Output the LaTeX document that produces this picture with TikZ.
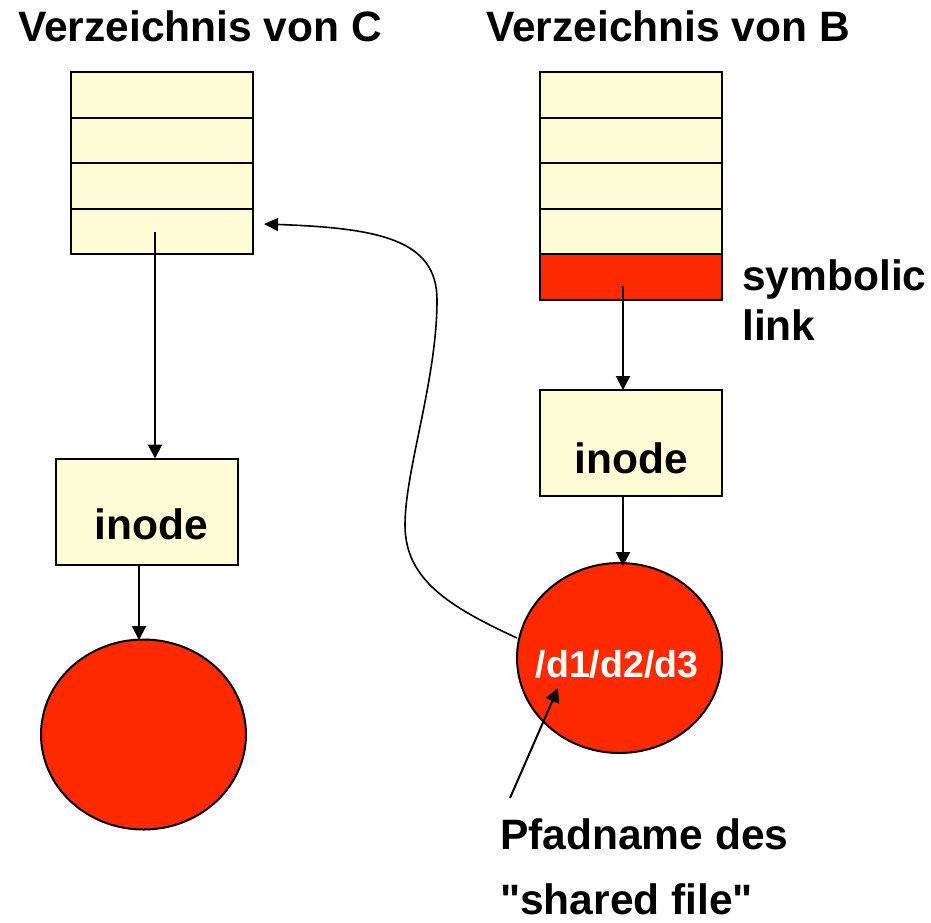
\documentclass[tikz,border=0pt]{standalone}
\usepackage{fontspec}
\setmainfont{Liberation Sans}[Ligatures=TeXOff]
\usetikzlibrary{arrows.meta,shapes.geometric}
\definecolor{paleyellow}{HTML}{FFFDD6}
\definecolor{linkred}{HTML}{FF2A00}
\tikzset{
  cell/.style={draw=black, line width=2pt, fill=paleyellow, minimum width=182pt, minimum height=45.5pt, inner sep=0pt, outer sep=0pt},
  redcell/.style={cell, fill=linkred},
  inodebox/.style={draw=black, line width=2pt, fill=paleyellow, minimum width=182pt, minimum height=106pt, inner sep=0pt, outer sep=0pt},
  fileblob/.style={ellipse, draw=black, line width=2pt, fill=linkred, minimum width=205pt, minimum height=190pt, inner sep=0pt, outer sep=0pt},
  bigtext/.style={font=\bfseries\fontsize{42.5}{50}\selectfont, inner sep=0pt, anchor=base west},
  conn/.style={line width=2pt, -{Triangle[length=14pt,width=14pt]}},
  thinconn/.style={line width=1.6pt, -{Triangle[length=14pt,width=13pt]}}
}
\begin{document}
\begin{tikzpicture}[x=1pt,y=-1pt]
\useasboundingbox (0,0) rectangle (931,922);
% titles
\node[bigtext] (tc) at (18,41) {Verzeichnis von C};
\node[bigtext] (tb) at (486,41) {Verzeichnis von B};
% directory C
\node[cell] (c1) at (162,95) {};
\node[cell] (c2) at (162,140.5) {};
\node[cell] (c3) at (162,186) {};
\node[cell] (c4) at (162,231.5) {};
% directory B
\node[cell] (b1) at (631,95) {};
\node[cell] (b2) at (631,140.5) {};
\node[cell] (b3) at (631,186) {};
\node[cell] (b4) at (631,231.5) {};
\node[redcell] (b5) at (631,277) {};
\node[bigtext] (sym) at (742,290) {symbolic};
\node[bigtext] (lnk) at (742,340) {link};
% inodes
\node[inodebox] (ic) at (147,511.5) {};
\node[bigtext, anchor=base] (ict) at (151,539) {inode};
\node[inodebox] (ib) at (631,443) {};
\node[bigtext, anchor=base] (ibt) at (631,473) {inode};
% files
\node[fileblob] (fc) at (143.5,734.5) {};
\node[fileblob] (fb) at (619.5,658) {};
\node[font=\bfseries\fontsize{37.5}{44}\selectfont, text=white, inner sep=0pt, anchor=base] (path) at (617,677) {/d1/d2/d3};
% labels
\node[bigtext] (pn1) at (500,849) {Pfadname des};
\node[bigtext] (pn2) at (500,914) {"shared file"};
% connectors
\coordinate (cstart) at (155,232);
\coordinate (bstart) at (623,286);
\coordinate (linktip) at (264,224);
\coordinate (curvestart) at (517,638);
\coordinate (ptrstart) at (510,798);
\coordinate (ptrtip) at (558,688);
\draw[conn] (cstart) -- (cstart |- ic.north);
\draw[conn] (ic.south -| 139,0) -- (139,640);
\draw[conn] (bstart) -- (bstart |- ib.north);
\draw[conn] (ib.south -| 623,0) -- (623,566);
\draw[thinconn] (curvestart) .. controls (450,607) and (405,580) .. (405,525)
  .. controls (405,470) and (437,380) .. (437,300)
  .. controls (437,240) and (380,228) .. (linktip);
\draw[conn] (ptrstart) -- (ptrtip);
\end{tikzpicture}
\end{document}
